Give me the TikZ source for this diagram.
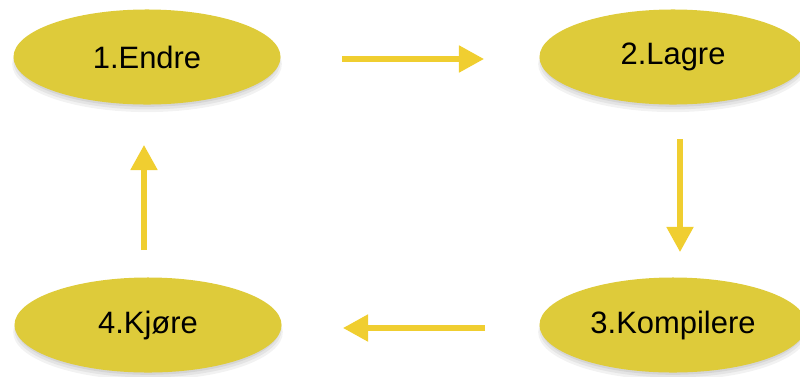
\documentclass[tikz,border=0pt]{standalone}
\usepackage{fontspec}
\setmainfont{Liberation Sans}
\usepackage{tikz}
\usetikzlibrary{arrows.meta,positioning,shapes.geometric,shadows}
\definecolor{stepfill}{RGB}{222,203,58}
\definecolor{arrowyel}{RGB}{240,206,48}
\tikzset{
  stage/.style={ellipse, fill=stepfill, inner sep=0pt,
    minimum width=6.675cm, minimum height=2.375cm, font=\fontsize{22}{26}\selectfont,
    drop shadow={opacity=0.10, shadow xshift=0pt, shadow yshift=-5pt, shadow scale=1.01},
    drop shadow={opacity=0.12, shadow xshift=0pt, shadow yshift=-3.5pt},
    drop shadow={opacity=0.15, shadow xshift=0pt, shadow yshift=-2pt, shadow scale=0.99}},
  flow/.style={draw=arrowyel, line width=3.6pt, -{Triangle[length=17.8pt, width=18.5pt]}}
}
\begin{document}
\begin{tikzpicture}[x=0.025cm, y=-0.025cm]
    \useasboundingbox (0,0) rectangle (800,376);
    \node[stage] (endre) at (147,57) {1.Endre};
    \node[stage] (lagre) at (673,57) {2.Lagre};
    \node[stage] (kompilere) at (673,325) {3.Kompilere};
    \node[stage] (kjore) at (148,325) {4.Kjøre};

    \draw[flow] (342,59) coordinate (a1) -- (484,59) coordinate (a2);
    \draw[flow] (680,139) coordinate (b1) -- (680,252) coordinate (b2);
    \draw[flow] (485,328) coordinate (c1) -- (343,328) coordinate (c2);
    \draw[flow] (144,250) coordinate (d1) -- (144,145) coordinate (d2);
  \end{tikzpicture}
\end{document}
